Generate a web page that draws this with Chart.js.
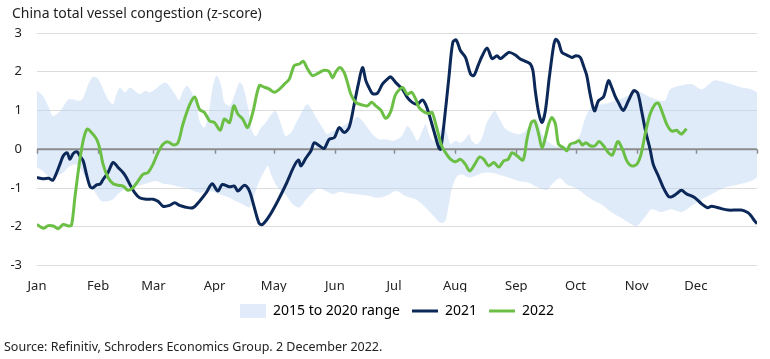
<!DOCTYPE html>
<html>
<head>
<meta charset="utf-8">
<script src="https://cdn.jsdelivr.net/npm/chart.js@4.4.1/dist/chart.umd.min.js"></script>
<style>
  html, body { margin: 0; padding: 0; background: #fff; }
  #wrap { position: relative; width: 770px; height: 359px; overflow: hidden; }
  #title { position: absolute; left: 12px; top: 3px; font: 14px "Noto Sans", sans-serif; color: #1e1e1e; white-space: nowrap; }
  #source { position: absolute; left: 4px; top: 338px; font: 12.5px "Noto Sans", sans-serif; color: #222; white-space: nowrap; }
  canvas { position: absolute; left: 0; top: 0; }
</style>
</head>
<body>
<div id="wrap">
  <canvas id="c" width="770" height="359"></canvas>
  <div id="title">China total vessel congestion (z-score)</div>
  <div id="source">Source: Refinitiv, Schroders Economics Group. 2 December 2022.</div>
</div>
<script>
// ---- data (day of year, z-score) ----
const monthStarts = [0, 31, 59, 90, 120, 151, 181, 212, 243, 273, 304, 334, 365];
const monthLabels = ['Jan','Feb','Mar','Apr','May','Jun','Jul','Aug','Sep','Oct','Nov','Dec',''];
const yTicks = [-3, -2, -1, 0, 1, 2, 3];

const days2021 = [0,3,6,8,10,11.6,13.3,15.3,16.7,18.4,20.4,21.7,23.4,25.1,26.8,28.1,30.2,32,33.5,36,38.6,41.1,43.6,45.3,47,49.5,52,55.5,58.9,61.5,63.9,67.2,69.8,72.3,75,79,82.4,85.8,88.8,91.7,93.9,97.6,100.1,101.8,105.2,107.7,110.2,112.7,114.4,117.8,122,126.2,130.4,132.6,133.8,136.3,138.9,140.5,143.1,145.6,148.1,150.7,153.2,155.7,158.2,160.8,162.9,165,166.7,168.3,170,172.5,175.1,177.6,179.3,181.9,185.2,187.7,190.2,192.8,195.3,197,198.7,201.2,203.7,204.6,206.3,208.8,210.8,212.5,214.7,217.2,219.8,221.4,223.6,225.6,228.2,230.7,233.2,234.9,237.5,239.5,242.5,245,247.6,250.1,251.4,252.6,254.3,256,257.7,259.7,261.9,263,264.4,266.1,268.6,271.2,273.2,275.4,277,278.7,280.4,282.6,284.6,287.2,289.7,291.4,293,294.7,297.2,299.8,302.5,304.5,306.5,308.5,310.8,312.4,315,317.5,320,321.7,324.2,326.7,329.3,333.5,336.9,339.9,341.9,345.3,350.4,357,360.5,362,363.8,365];
const vals2021 = [-0.73,-0.76,-0.75,-0.8,-0.6,-0.39,-0.17,-0.09,-0.26,-0.11,-0.07,-0.17,-0.3,-0.65,-0.95,-1.0,-0.92,-0.9,-0.78,-0.6,-0.34,-0.47,-0.6,-0.73,-0.9,-1.12,-1.25,-1.29,-1.29,-1.35,-1.47,-1.45,-1.38,-1.45,-1.49,-1.51,-1.34,-1.12,-0.89,-1.08,-0.91,-0.97,-0.95,-1.08,-0.93,-1.08,-1.51,-1.92,-1.94,-1.72,-1.34,-0.91,-0.43,-0.28,-0.43,-0.23,-0.04,0.17,0.09,0.02,0.26,0.30,0.56,0.43,0.56,1.16,1.68,2.11,1.77,1.59,1.44,1.44,1.68,1.81,1.87,1.72,1.55,1.34,1.21,1.16,1.27,1.16,0.91,0.47,0.04,0,0.65,1.85,2.76,2.82,2.54,2.37,1.94,1.90,2.16,2.4,2.61,2.34,2.41,2.34,2.44,2.5,2.43,2.33,2.27,2.2,2.03,1.51,0.95,0.69,0.99,1.85,2.67,2.84,2.76,2.5,2.43,2.37,2.41,2.37,2.16,1.9,1.42,0.99,1.25,1.35,1.77,1.59,1.38,1.21,1.0,1.25,1.51,1.45,0.99,0.47,0,-0.39,-0.69,-0.99,-1.21,-1.23,-1.15,-1.06,-1.15,-1.25,-1.41,-1.51,-1.47,-1.51,-1.57,-1.57,-1.64,-1.72,-1.85,-1.92];

const days2022 = [0,3.2,5.7,8.2,10.8,13.3,15.9,17.5,19.2,21.4,23.4,25.4,27.6,30.2,31.9,33.5,36,38.6,41.1,43.6,46.2,48.7,51.2,53.7,56.3,58.8,61.3,63.9,66.4,69.3,71.5,74,77.4,79.9,82.4,84.9,87.5,90,92.9,95,97.6,99.8,101.8,104.3,106.8,109.4,112.7,115.3,117.8,120.3,122.9,125.4,127.9,130.4,133,135,137.2,139.7,143.1,145.6,148,149.8,151.5,153.5,155.7,157.4,159.1,161.6,165,167.5,169.7,171.7,174.3,176.8,179.3,181.5,183.5,185.5,187.7,189.9,192,193.6,196.1,198.7,200.3,202.4,205.1,207.1,209.7,212.2,214.7,217.2,219.3,221.9,224.3,226.5,229,231.6,234.1,236.6,238.8,240.8,243.4,246.4,248.4,250.6,252.3,254.3,256,257.7,259.4,261,262.8,264.4,266.9,268.6,270.3,272.8,274.8,276.5,278.2,280.4,282.9,284.9,287.2,289.7,291.7,294.4,296.8,299,301.4,304,306.2,308.3,310.8,313.3,315,317,319.2,321.7,324.2,325.6,326.7,328.1,329.3];
const vals2022 = [-1.94,-2.04,-1.97,-1.98,-2.05,-1.94,-1.98,-1.96,-1.25,-0.39,0.22,0.52,0.43,0.26,0,-0.39,-0.73,-0.89,-0.93,-0.95,-1.06,-0.99,-0.82,-0.65,-0.6,-0.39,-0.09,0.13,0.19,0.11,0.17,0.65,1.15,1.35,1.03,0.95,0.73,0.69,0.49,0.78,0.69,1.12,0.91,0.78,0.56,0.95,1.64,1.6,1.55,1.47,1.55,1.68,1.81,2.16,2.2,2.27,2.07,1.9,1.98,2.04,2.01,1.84,2.0,2.11,1.98,1.72,1.42,1.21,1.14,1.12,1.21,1.12,1.01,0.8,0.97,1.38,1.53,1.59,1.42,1.47,1.29,1.08,0.97,0.92,0.95,0.6,0.09,-0.09,-0.26,-0.32,-0.26,-0.39,-0.56,-0.39,-0.2,-0.26,-0.43,-0.34,-0.46,-0.3,-0.26,-0.09,-0.17,-0.28,0.26,0.69,0.73,0.39,0.04,0.3,0.65,0.82,0.65,0.13,0.04,-0.04,0.13,0.17,0.22,0.11,0.17,0.09,0.09,0.2,0.09,-0.09,-0.15,0.2,0,-0.3,-0.43,-0.39,-0.13,0.39,0.91,1.16,1.19,0.95,0.65,0.47,0.49,0.43,0.39,0.46,0.53];

const bandUpperDays = [0,3,6,8,11,13,16,18,21,23,26,28.5,31,33.5,36,38.6,40,42,44.5,47,49.5,52,55,57,60,62,65,67,70,72,74,76,78,81,82.4,85,87.5,89,91,93.4,95,97.6,100,102.6,104.3,107,109,111,113.6,116,118.7,121,123.7,126,128.8,131,134.6,137,139.7,142,144.7,147,150,152.5,156.6,160,162.4,165,167.5,170,173.4,176.8,180,182.7,185,187.7,190,192.8,195.3,197,198.7,201,203.7,206.3,208,209.7,212,214.7,217,219,220.5,223,225.6,227.7,229.9,232,233.2,235,237.5,240.8,244,246.7,249,251.8,253.4,256,259,262,266,270,273,275.4,278,281,286,290,298,303,306,311,318,321,326,332,337,343,347,352,357,362,365];
const bandUpperVals = [1.51,1.38,1.08,0.86,0.95,1.08,1.29,1.29,1.25,1.29,1.68,1.87,1.81,1.55,1.29,1.16,1.38,1.59,1.47,1.59,1.51,1.42,1.51,1.47,1.55,1.64,1.72,1.64,1.42,1.27,1.51,1.64,1.51,1.16,0.73,0.56,1.08,1.6,1.9,1.64,1.21,1.12,1.38,1.72,1.64,1.08,0.47,0.34,0.56,0.69,0.89,0.99,0.65,0.34,0.43,0.65,0.99,1.16,0.99,0.78,0.56,0.39,0.47,0.52,0.65,0.73,0.84,0.73,0.56,0.39,0.26,0.26,0.22,0.26,0.34,0.6,0.47,0.22,0.47,0.65,0.39,0.22,0.39,0.65,0.39,0.13,0.22,0.17,0.26,0.39,0.22,0.13,0.3,0.65,0.86,0.99,0.91,0.73,0.52,0.43,0.39,0.43,0.56,0.73,0.78,0.4,0.2,0.1,0.05,0.1,0.2,0.39,0.82,1.08,1.16,1.2,1.34,1.47,1.47,1.34,1.25,1.55,1.64,1.68,1.55,1.77,1.75,1.68,1.6,1.55,1.47];

const bandLowerDays = [0,3,6.6,10,13.3,15.9,19.2,21.7,25,27.6,30,32.7,36,38.6,41,43.6,47,50.4,53.7,57,60.5,64,67,70.6,74,77.4,82.4,87.5,92.5,97.6,101,104.3,107.7,110,112.7,115.3,117,118.7,121,123.7,126,129.6,133,136.3,139.7,143,146.4,150,153,158,162,168,173,178,182,187,192,197,201,204.6,207,208.8,210.5,213,215.5,219,222,225.6,229,234,239,244,249,254,258.5,261,265,268.6,273,276,280,283,286,291,296,301.4,304,308,311.6,316.6,321.6,326.7,331.6,337,342,348.7,355.4,362,365];
const bandLowerVals = [-0.47,-0.56,-0.73,-0.69,-0.6,-0.47,-0.39,-0.47,-0.78,-0.95,-1.16,-1.34,-1.34,-1.29,-1.16,-1.05,-0.99,-0.95,-0.91,-0.86,-0.82,-0.89,-0.91,-0.95,-0.99,-1.03,-1.12,-1.08,-1.16,-1.25,-1.34,-1.42,-1.5,-1.21,-0.82,-0.56,-0.43,-0.65,-0.91,-1.08,-1.16,-1.42,-1.5,-1.3,-1.12,-1.0,-1.08,-1.16,-1.1,-1.14,-1.16,-1.2,-1.25,-1.18,-1.08,-1.21,-1.29,-1.5,-1.72,-1.9,-1.85,-1.42,-0.99,-0.69,-0.65,-0.73,-0.69,-0.62,-0.6,-0.65,-0.73,-0.82,-0.86,-0.99,-1.05,-0.91,-0.75,-0.91,-1.0,-1.1,-1.25,-1.34,-1.42,-1.62,-1.77,-1.94,-1.98,-1.77,-1.55,-1.62,-1.55,-1.62,-1.47,-1.29,-1.16,-0.99,-0.91,-0.82,-0.73];

// ---- styles ----
const NAVY = '#0b2858';
const GREEN = '#6cbf45';
const BAND = 'rgba(186, 210, 243, 0.45)';
const BAND_SOLID = '#e2ebf9';

const pts = (xs, ys) => xs.map((x, i) => ({ x: x, y: ys[i] }));

const bandImg = document.createElement('canvas');
bandImg.width = 26; bandImg.height = 14;
(function () { const g = bandImg.getContext('2d'); g.fillStyle = BAND_SOLID; g.fillRect(0, 0, 26, 14); })();

const zeroTicks = {
  id: 'zeroTicks',
  afterDatasetDraw(chart, args) {
    if (args.index !== 1) return; // right after the range band, below the lines
    const xs = chart.scales.x, ys = chart.scales.y, ctx = chart.ctx;
    const y0 = ys.getPixelForValue(0);
    ctx.save();
    ctx.strokeStyle = '#8c8c8c';
    ctx.lineWidth = 2;
    ctx.beginPath(); ctx.moveTo(chart.chartArea.left, y0); ctx.lineTo(chart.chartArea.right, y0); ctx.stroke();
    ctx.lineWidth = 1.5;
    monthStarts.forEach(v => {
      const x = Math.round(xs.getPixelForValue(v)) + 0.5;
      ctx.beginPath(); ctx.moveTo(x, y0); ctx.lineTo(x, y0 + 4.5); ctx.stroke();
    });
    ctx.restore();
  }
};

new Chart(document.getElementById('c'), {
  type: 'line',
  data: {
    datasets: [
      { label: 'lower', data: pts(bandLowerDays, bandLowerVals), borderWidth: 0, borderColor: 'rgba(0,0,0,0)', backgroundColor: BAND, pointRadius: 0, fill: false, tension: 0.3, order: 4 },
      { label: '2015 to 2020 range', data: pts(bandUpperDays, bandUpperVals), borderWidth: 0, borderColor: 'rgba(0,0,0,0)', backgroundColor: BAND, pointRadius: 0, fill: { target: 0 }, tension: 0.3, order: 3 },
      { label: '2021', data: pts(days2021, vals2021), borderColor: NAVY, borderWidth: 3, pointRadius: 0, fill: false, tension: 0.3, order: 2 },
      { label: '2022', data: pts(days2022, vals2022), borderColor: GREEN, borderWidth: 3, pointRadius: 0, fill: false, tension: 0.3, order: 1 }
    ]
  },
  options: {
    responsive: false,
    animation: false,
    layout: { padding: { left: 5, right: 11, top: 33, bottom: 31 } },
    scales: {
      x: {
        type: 'linear', min: 0, max: 365,
        grid: { display: false, drawTicks: false },
        border: { display: false },
        afterBuildTicks: s => { s.ticks = monthStarts.map(v => ({ value: v })); },
        afterFit: s => { s.height = 26.5; },
        ticks: {
          autoSkip: false, maxRotation: 0, padding: 13,
          font: { family: 'Noto Sans', size: 13 }, color: '#222',
          callback: v => monthLabels[monthStarts.indexOf(v)]
        }
      },
      y: {
        min: -3, max: 3,
        afterBuildTicks: s => { s.ticks = yTicks.map(v => ({ value: v })); },
        afterFit: s => { s.width = 32; },
        grid: {
          drawTicks: false,
          color: c => (c.tick && c.tick.value === 0) ? 'rgba(0,0,0,0)' : '#dcdcdc',
          lineWidth: 1
        },
        border: { display: false },
        ticks: { padding: 15, font: { family: 'Noto Sans', size: 13 }, color: '#222' }
      }
    },
    plugins: {
      tooltip: { enabled: false },
      legend: {
        position: 'bottom',
        fullSize: false,
        labels: {
          usePointStyle: true,
          pointStyleWidth: 26,
          padding: 12,
          font: { family: 'Noto Sans', size: 14 },
          color: '#222',
          generateLabels: () => [
            { text: '2015 to 2020 range', pointStyle: bandImg, fillStyle: BAND_SOLID, strokeStyle: BAND_SOLID, lineWidth: 0, hidden: false, datasetIndex: 1 },
            { text: '2021', pointStyle: 'line', fillStyle: NAVY, strokeStyle: NAVY, lineWidth: 3, hidden: false, datasetIndex: 2 },
            { text: '2022', pointStyle: 'line', fillStyle: GREEN, strokeStyle: GREEN, lineWidth: 3, hidden: false, datasetIndex: 3 }
          ]
        }
      }
    }
  },
  plugins: [zeroTicks]
});
</script>
</body>
</html>
